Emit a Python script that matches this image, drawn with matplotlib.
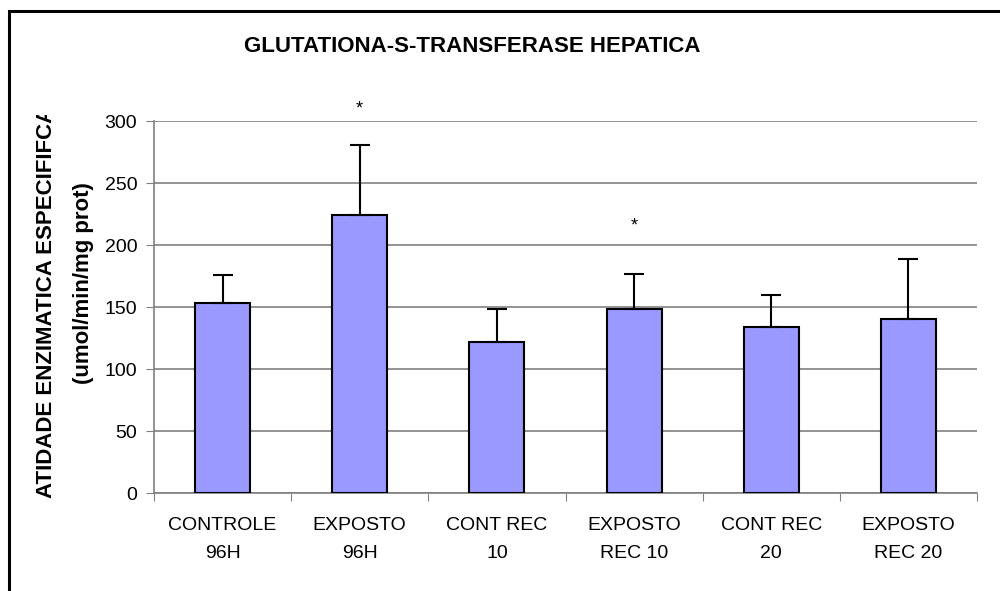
import matplotlib.pyplot as plt
import matplotlib.patches as mpatches
import numpy as np

plt.rcParams['font.family'] = ['Liberation Sans', 'DejaVu Sans']

# dados
grupos = ["CONTROLE\n96H", "EXPOSTO\n96H", "CONT REC\n10", "EXPOSTO\nREC 10", "CONT REC\n20", "EXPOSTO\nREC 20"]
medias = [153, 224, 122, 148, 134, 140]
desvios = [23, 57, 26, 29, 26, 49]
signif = ["", "*", "", "*", "", ""]
signif_y = [0, 310, 0, 215, 0, 0]

W, H = 1000, 591
fig = plt.figure(figsize=(W / 100, H / 100), dpi=100)
ax = fig.add_axes([154 / W, 1 - 493 / H, 823 / W, 372 / H])

x = np.arange(len(grupos))
ax.bar(x, medias, width=0.4, color='#9999FF', edgecolor='black', linewidth=1.5, zorder=3)
ax.errorbar(x, medias, yerr=[np.zeros(len(x)), desvios], fmt='none', ecolor='black',
            elinewidth=1.5, capsize=7, capthick=1.5, zorder=4)
for xi, s, sy in zip(x, signif, signif_y):
    if s:
        ax.text(xi, sy, s, ha='center', va='center', fontsize=13, zorder=5)

ax.set_xlim(-0.5, len(grupos) - 0.5)
ax.set_ylim(0, 300)
ax.set_yticks(np.arange(0, 301, 50))
ax.yaxis.grid(True, color='#808080', linewidth=1.2, zorder=0)
ax.set_axisbelow(True)

# ticks entre categorias, rótulos no centro
ax.set_xticks(np.arange(-0.5, len(grupos)), minor=False)
ax.set_xticklabels([])
ax.set_xticks(x, minor=True)
ax.set_xticklabels(grupos, minor=True, fontsize=14, linespacing=1.9)
ax.tick_params(axis='x', which='minor', length=0, pad=17)
ax.tick_params(axis='x', which='major', length=6, direction='out', color='#808080')
ax.tick_params(axis='y', length=6, direction='out', color='#808080', labelsize=14, pad=6)
for s in ['top', 'right']:
    ax.spines[s].set_visible(False)
for s in ['left', 'bottom']:
    ax.spines[s].set_color('#808080')
    ax.spines[s].set_linewidth(1.2)

fig.text(472 / W, 1 - 47 / H, "GLUTATIONA-S-TRANSFERASE HEPATICA", ha='center', va='center',
         fontsize=16, fontweight='bold')

# rótulo do eixo y (cortado no topo como no original)
clip = mpatches.Rectangle((0, 0), 1, 1 - 115 / H, transform=fig.transFigure, visible=False)
fig.add_artist(clip)
t1 = fig.text(47 / W, 1 - 498 / H, "ATIDADE ENZIMATICA ESPECIFIFCA", rotation=90,
              ha='center', va='bottom', fontsize=16, fontweight='bold')
t1.set_clip_path(clip)
fig.text(84 / W, 1 - 283 / H, "(umol/min/mg prot)", rotation=90,
         ha='center', va='center', fontsize=16, fontweight='bold')

# moldura do gráfico
frame = mpatches.Rectangle((9 / W, -0.1), 1.2, 1 - 11 / H + 0.1, transform=fig.transFigure,
                           fill=False, edgecolor='black', linewidth=2.2)
fig.add_artist(frame)

fig.savefig('out.png', dpi=100)
